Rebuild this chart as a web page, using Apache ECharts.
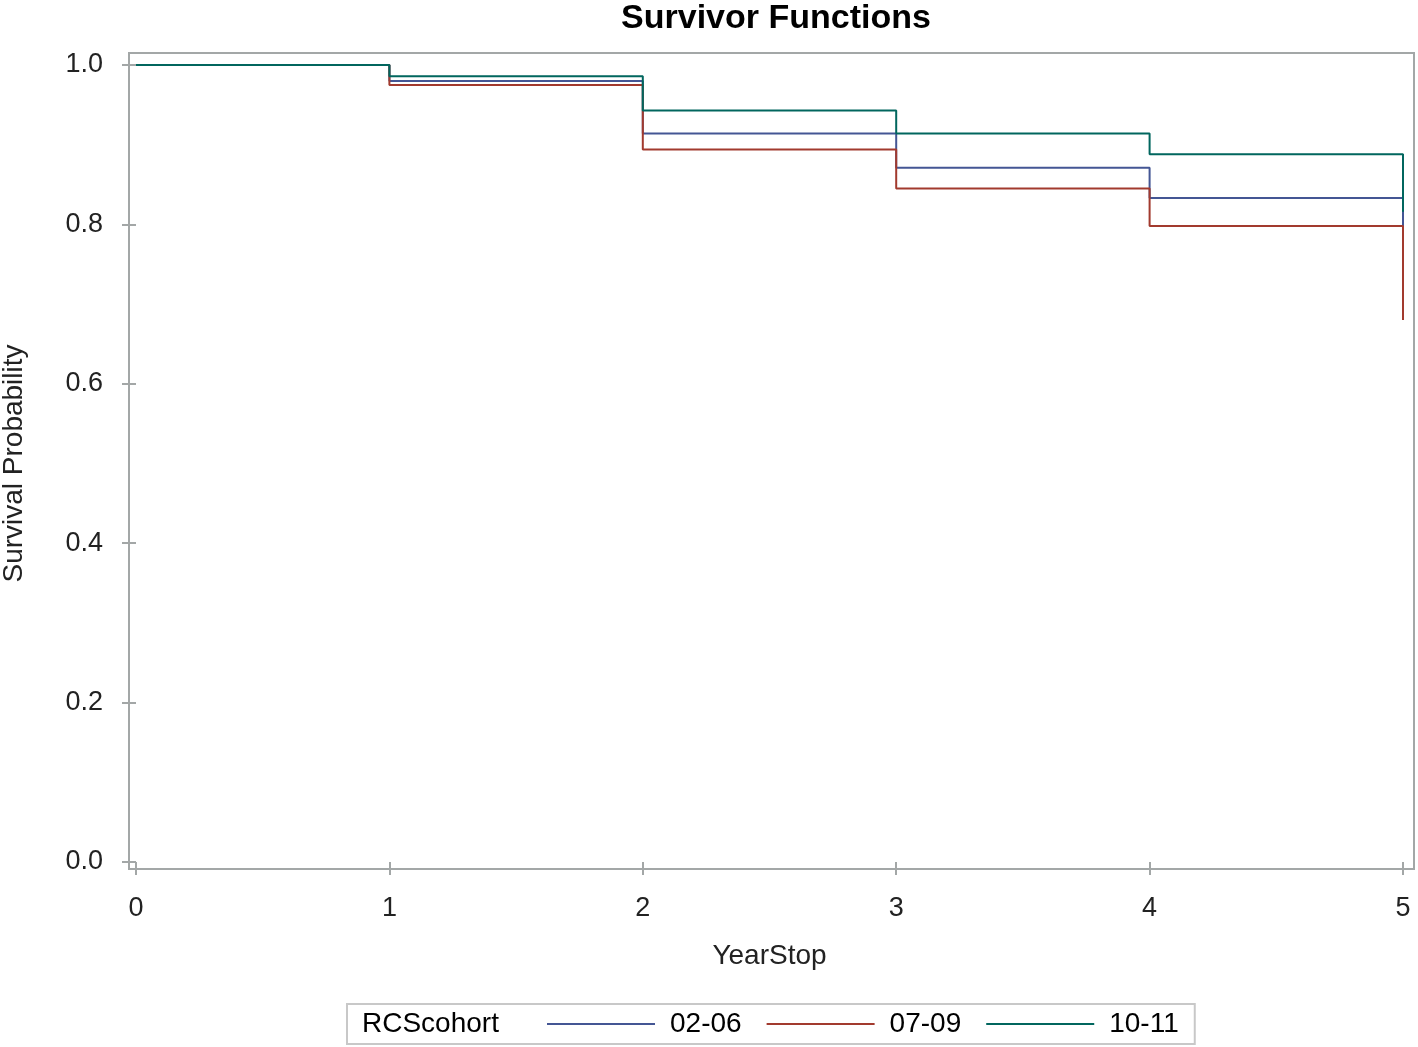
<!DOCTYPE html>
<html>
<head>
<meta charset="utf-8">
<script src="https://cdn.jsdelivr.net/npm/echarts@6/dist/echarts.min.js"></script>
<style>html,body{margin:0;padding:0;background:#fff;}#c{width:1418px;height:1047px;}</style>
</head>
<body>
<div id="c"></div>
<script>
var years = [0, 1, 2, 3, 4, 5];
var yTicks = [0, 0.2, 0.4, 0.6, 0.8, 1.0];
var cohorts = ['02-06', '07-09', '10-11'];
var surv0206 = [1.0, 0.980, 0.914, 0.871, 0.833, 0.798];
var surv0709 = [1.0, 0.975, 0.894, 0.845, 0.798, 0.680];
var surv1011 = [1.0, 0.986, 0.943, 0.914, 0.888, 0.816];
var colors = ['#445694', '#A23A2E', '#01665E'];

function pts(v) { return years.map(function (x, i) { return [x, v[i]]; }); }
var allVals = [surv0206, surv0709, surv1011];

var FONT = '"Liberation Sans", Arial, sans-serif';
var chart = echarts.init(document.getElementById('c'), null, {renderer: 'canvas'});
var option = {
  animation: false,
  backgroundColor: '#fff',
  title: [
    {text: 'Survivor Functions', left: 771, textAlign: 'center', top: -3,
     textStyle: {fontFamily: FONT, fontSize: 34, fontWeight: 'bold', color: '#000'}},
    {text: 'RCScohort', left: 357, top: 1005,
     textStyle: {fontFamily: FONT, fontSize: 28, fontWeight: 'normal', color: '#000'}}
  ],
  legend: {
    left: 347, top: 1004,
    padding: [6, 16, 6, 200],
    borderColor: '#c8c8c8', borderWidth: 2,
    itemWidth: 108, itemHeight: 2, itemGap: 25,
    icon: 'rect',
    textStyle: {fontFamily: FONT, fontSize: 28, color: '#000', padding: [0, 0, 0, 10]},
    data: cohorts
  },
  grid: [
    {left: 129, right: 4, top: 53, bottom: 178, show: true, borderColor: '#a3a7a7', borderWidth: 2,
     backgroundColor: 'transparent', containLabel: false, outerBoundsMode: 'none'},
    {left: 136, right: 15, top: 65, bottom: 185, containLabel: false, outerBoundsMode: 'none'}
  ],
  xAxis: [
    {gridIndex: 0, type: 'value', show: false, min: 0, max: 1},
    {gridIndex: 1, type: 'value', min: 0, max: 5, interval: 1, offset: 7,
     axisLine: {show: false},
     axisTick: {show: true, length: 13, lineStyle: {color: '#a3a7a7', width: 2}},
     axisLabel: {fontFamily: FONT, fontSize: 27, color: '#222', margin: 26},
     splitLine: {show: false},
     name: 'YearStop', nameLocation: 'middle', nameGap: 73,
     nameTextStyle: {fontFamily: FONT, fontSize: 28, color: '#222'}}
  ],
  yAxis: [
    {gridIndex: 0, type: 'value', show: false, min: 0, max: 1},
    {gridIndex: 1, type: 'value', min: 0, max: 1, interval: 0.2, offset: 7,
     axisLine: {show: false},
     axisTick: {show: true, length: 14, lineStyle: {color: '#a3a7a7', width: 2}},
     axisLabel: {fontFamily: FONT, fontSize: 27, color: '#222', margin: 26,
       formatter: function (v) { return v.toFixed(1); }},
     splitLine: {show: false},
     name: 'Survival Probability', nameLocation: 'middle', nameGap: 101,
     nameTextStyle: {fontFamily: FONT, fontSize: 28, color: '#222'}}
  ],
  series: cohorts.map(function (name, i) {
    return {
      name: name, type: 'line', xAxisIndex: 1, yAxisIndex: 1,
      step: 'end', symbol: 'none', data: pts(allVals[i]),
      lineStyle: {color: colors[i], width: 2},
      itemStyle: {color: colors[i]},
      z: 2 + i
    };
  })
};
chart.setOption(option);
</script>
</body>
</html>
